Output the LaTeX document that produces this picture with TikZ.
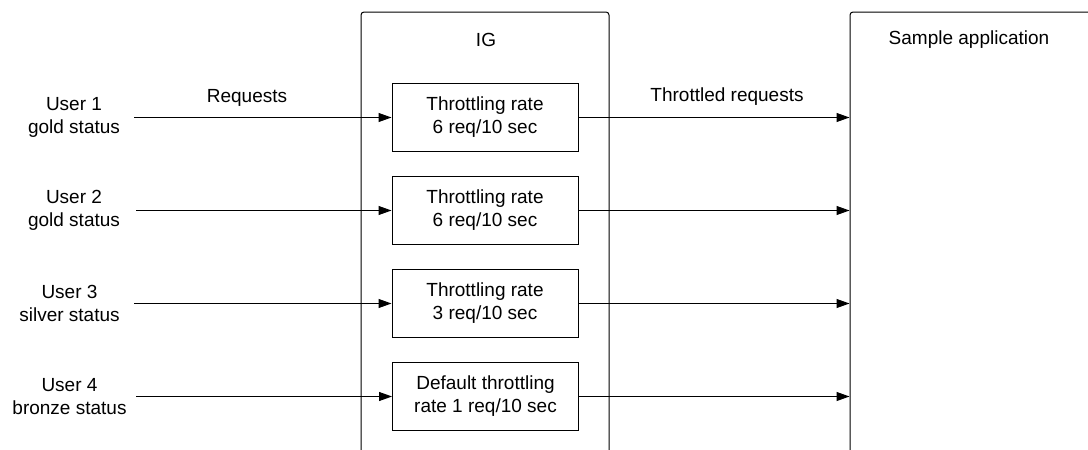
\documentclass[tikz,border=0pt]{standalone}
\usepackage{fontspec}
\setmainfont{Liberation Sans}
\usetikzlibrary{arrows.meta}
\begin{document}
\begin{tikzpicture}[x=1pt,y=-1pt,
  every node/.style={font=\fontsize{19pt}{23pt}\selectfont, inner sep=0pt},
  container/.style={draw, line width=1pt, rounded corners=3pt, anchor=north west},
  ratebox/.style={draw, line width=1pt, minimum width=186pt, minimum height=68pt, align=center},
  user/.style={align=center, minimum height=40pt},
  flow/.style={line width=1pt, -{Triangle[length=13pt,width=9pt]}}]
\useasboundingbox (0,0) rectangle (1088,450);
% containers (open at the bottom / right, running past the page edge)
\node[container, minimum width=248pt, minimum height=470pt] (ig) at (360.5,11.5) {};
\node[container, minimum width=280pt, minimum height=470pt] (app) at (849.5,11.5) {};
\node (iglabel) at (486,40) {IG};
\node (applabel) at (969,40) {Sample application};
% throttling boxes
\node[ratebox] (b1) at (485,117.5) {Throttling rate\\ 6 req/10 sec};
\node[ratebox] (b2) at (485,210.5) {Throttling rate\\ 6 req/10 sec};
\node[ratebox] (b3) at (485,303.5) {Throttling rate\\ 3 req/10 sec};
\node[ratebox] (b4) at (485.5,396.5) {Default throttling\\rate 1 req/10 sec};
% users
\node[user, minimum width=120pt] (u1) at (74,117.5) {User 1\\gold status};
\node[user, minimum width=124pt] (u2) at (74,210.5) {User 2\\gold status};
\node[user, minimum width=129pt] (u3) at (69.5,303.5) {User 3\\silver status};
\node[user, minimum width=133pt] (u4) at (69.5,396.5) {User 4\\bronze status};
% labels
\node (req) at (247,98) {Requests};
\node (treq) at (727,97) {Throttled requests};
% connectors
\foreach \i in {1,2,3,4}{
  \draw[flow] (u\i.east) -- (b\i.west);
  \draw[flow] (b\i.east) -- (b\i.east -| app.west);
}
\end{tikzpicture}
\end{document}
